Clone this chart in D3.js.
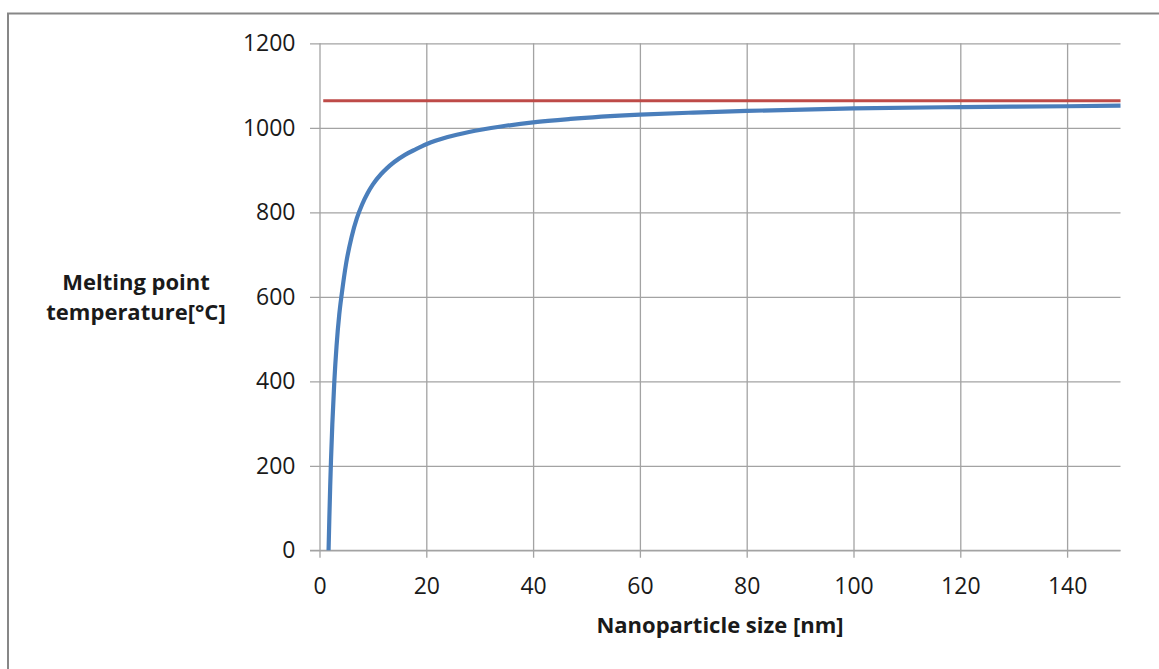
<!DOCTYPE html>
<html>
<head>
<meta charset="utf-8">
<script src="https://cdn.jsdelivr.net/npm/d3@7"></script>
<style>
  html, body { margin: 0; padding: 0; background: #fff; }
  svg { display: block; }
</style>
</head>
<body>
<svg id="chart" width="1159" height="669"></svg>
<script>
// Data
const xTicks = [0, 20, 40, 60, 80, 100, 120, 140];
const yTicks = [0, 200, 400, 600, 800, 1000, 1200];
const sizeNm = [1.7, 1.85, 2.0, 2.15, 2.4, 2.77, 3.2, 3.7, 4.16, 5, 6, 7, 8, 9, 10, 11.5, 12.6, 14, 16, 18, 20, 24, 28, 34, 40, 47, 60, 70, 80, 100, 120, 140, 150];
const meltT  = [0, 80, 150, 212, 298, 398, 485, 558, 606, 680, 741, 786, 819, 845, 866, 890, 904, 919, 936, 949, 961, 978, 990, 1003, 1013, 1021, 1031, 1036, 1040, 1046, 1049, 1051, 1052.5];
const bulkX = [0.7, 150];
const bulkT = [1064, 1064];
const xTitle = "Nanoparticle size [nm]";
const yTitle = ["Melting point", "temperature[°C]"];

const svg = d3.select("#chart");
const font = "'Open Sans', 'Liberation Sans', sans-serif";

// outer frame
svg.append("rect")
  .attr("x", 8).attr("y", 13.5)
  .attr("width", 1170).attr("height", 700)
  .attr("fill", "none").attr("stroke", "#878787").attr("stroke-width", 2);

const x = d3.scaleLinear().domain([0, 150]).range([319.5, 1120.5]);
const y = d3.scaleLinear().domain([0, 1200]).range([550.3, 43.3]);

const gridColor = "#a3a3a3";

// horizontal gridlines + y ticks
const yAxis = d3.axisLeft(y).tickValues(yTicks).tickFormat(d3.format("d"))
  .tickSize(-(x(150) - x(0))).tickPadding(15).tickSizeOuter(0);
const gy = svg.append("g").attr("transform", `translate(${x(0)},0)`).call(yAxis);
gy.select(".domain").remove();
gy.selectAll(".tick line").attr("stroke", gridColor).attr("stroke-width", 1.3)
  .attr("x1", -9.5);
gy.selectAll(".tick text").attr("font-family", font).attr("font-size", 23)
  .attr("fill", "#1a1a1a").attr("x", -24);

// vertical gridlines + x ticks
const xAxis = d3.axisBottom(x).tickValues(xTicks).tickFormat(d3.format("d"))
  .tickSize(-(y(0) - y(1200))).tickPadding(20).tickSizeOuter(0);
const gx = svg.append("g").attr("transform", `translate(0,${y(0)})`).call(xAxis);
gx.select(".domain").remove();
gx.selectAll(".tick line").attr("stroke", gridColor).attr("stroke-width", 1.3)
  .attr("y1", 7.5);
gx.selectAll(".tick text").attr("font-family", font).attr("font-size", 23)
  .attr("fill", "#1a1a1a").attr("y", 0).attr("dy", 0)
  .attr("transform", "translate(0,44)");

// bottom axis line over gridlines
svg.append("line")
  .attr("x1", x(0) - 9.5).attr("x2", x(150))
  .attr("y1", y(0)).attr("y2", y(0))
  .attr("stroke", gridColor).attr("stroke-width", 1.3);

// bulk melting point line
const bulkData = bulkX.map((d, i) => [d, bulkT[i]]);
svg.append("path")
  .datum(bulkData)
  .attr("d", d3.line().x(d => x(d[0])).y(d => y(d[1])))
  .attr("fill", "none").attr("stroke", "#be4b48").attr("stroke-width", 3.2);

// nanoparticle curve
const curveData = sizeNm.map((d, i) => [d, meltT[i]]);
svg.append("path")
  .datum(curveData)
  .attr("d", d3.line().x(d => x(d[0])).y(d => y(d[1])).curve(d3.curveMonotoneX))
  .attr("fill", "none").attr("stroke", "#4a7ebb").attr("stroke-width", 4.2)
  .attr("stroke-linejoin", "round");

// axis titles
svg.append("text")
  .attr("x", (x(0) + x(150)) / 2).attr("y", 633)
  .attr("text-anchor", "middle")
  .attr("font-family", font).attr("font-size", 22).attr("font-weight", "bold")
  .attr("fill", "#1a1a1a")
  .text(xTitle);

const yt = svg.append("text")
  .attr("text-anchor", "middle")
  .attr("font-family", font).attr("font-size", 22).attr("font-weight", "bold")
  .attr("fill", "#1a1a1a");
yt.append("tspan").attr("x", 136).attr("y", 290).text(yTitle[0]);
yt.append("tspan").attr("x", 136).attr("y", 320).text(yTitle[1]);
</script>
</body>
</html>
